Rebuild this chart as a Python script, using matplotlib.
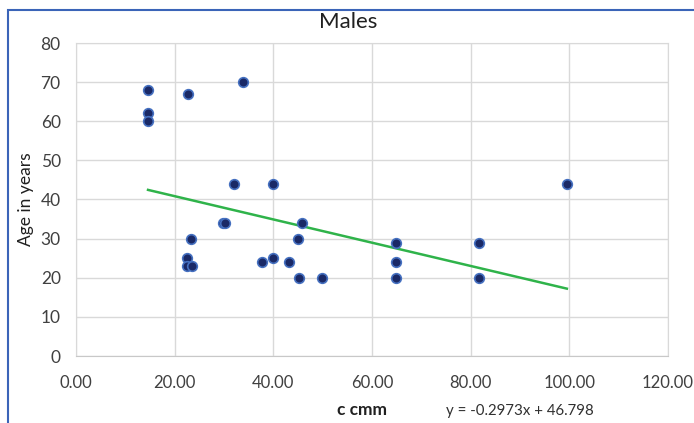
import matplotlib
matplotlib.use("Agg")
import matplotlib.pyplot as plt
from matplotlib.patches import Rectangle
import numpy as np

plt.rcParams['font.family'] = ['Lato', 'DejaVu Sans']

x_vals = [14.6, 14.6, 14.6, 22.7, 33.9, 32.0, 39.9, 29.8, 30.2, 45.8, 23.3, 45.1,
          22.6, 22.4, 23.5, 37.7, 39.9, 43.2, 45.2, 49.9, 64.8, 64.8, 64.8,
          81.6, 81.6, 99.5]
y_vals = [68, 62, 60, 67, 70, 44, 44, 34, 34, 34, 30, 30,
          25, 23, 23, 24, 25, 24, 20, 20, 29, 24, 20,
          29, 20, 44]
slope = -0.2973
intercept = 46.798
x_ticks = [0, 20, 40, 60, 80, 100, 120]
y_ticks = [0, 10, 20, 30, 40, 50, 60, 70, 80]

fig = plt.figure(figsize=(6.94, 4.23), dpi=100)
fig.patch.set_facecolor('white')
ax = fig.add_axes([76/694, 1-356/423, (668-76)/694, (356-43)/423])

ax.set_xlim(0, 120)
ax.set_ylim(0, 80)
ax.set_xticks(x_ticks)
ax.set_yticks(y_ticks)
ax.set_xticklabels([f"{t:.2f}" for t in x_ticks])
ax.grid(True, color='#d9d9d9', linewidth=1)
ax.set_axisbelow(True)
for s in ['top', 'right', 'left']:
    ax.spines[s].set_color('#d9d9d9')
ax.spines['bottom'].set_color('#c8c8c8')
ax.tick_params(axis='x', length=0, labelsize=12, colors='#404040', pad=14)
ax.tick_params(axis='y', length=0, labelsize=12.5, colors='#404040', pad=11)

ax.scatter(x_vals, y_vals, s=48, facecolor='#1a2966', edgecolor='#4570c0',
           linewidth=1.2, zorder=3)

xl = np.array([min(x_vals), max(x_vals)])
ax.plot(xl, slope * xl + intercept, color='#2fb34a', linewidth=1.8, zorder=2)

fig.text(348/694, 1-22/423, "Males", ha='center', va='center', fontsize=16, color='#202020')
fig.text(26/694, 1-199/423, "Age in years", ha='center', va='center', rotation=90,
         fontsize=12.5, color='#202020')
fig.text(362/694, 1-410/423, "c cmm", ha='center', va='center', fontsize=12.5,
         fontweight='bold', color='#202020')
fig.text(446/694, 1-411/423, f"y = {slope}x + {intercept}", ha='left', va='center',
         fontsize=10.8, color='#303030')

fig.add_artist(Rectangle((8/694, -0.1), 1.2, 1.1 - 10/423, transform=fig.transFigure,
                         fill=False, edgecolor='#3b64b8', linewidth=1.5))

fig.savefig("out.png", dpi=100)
